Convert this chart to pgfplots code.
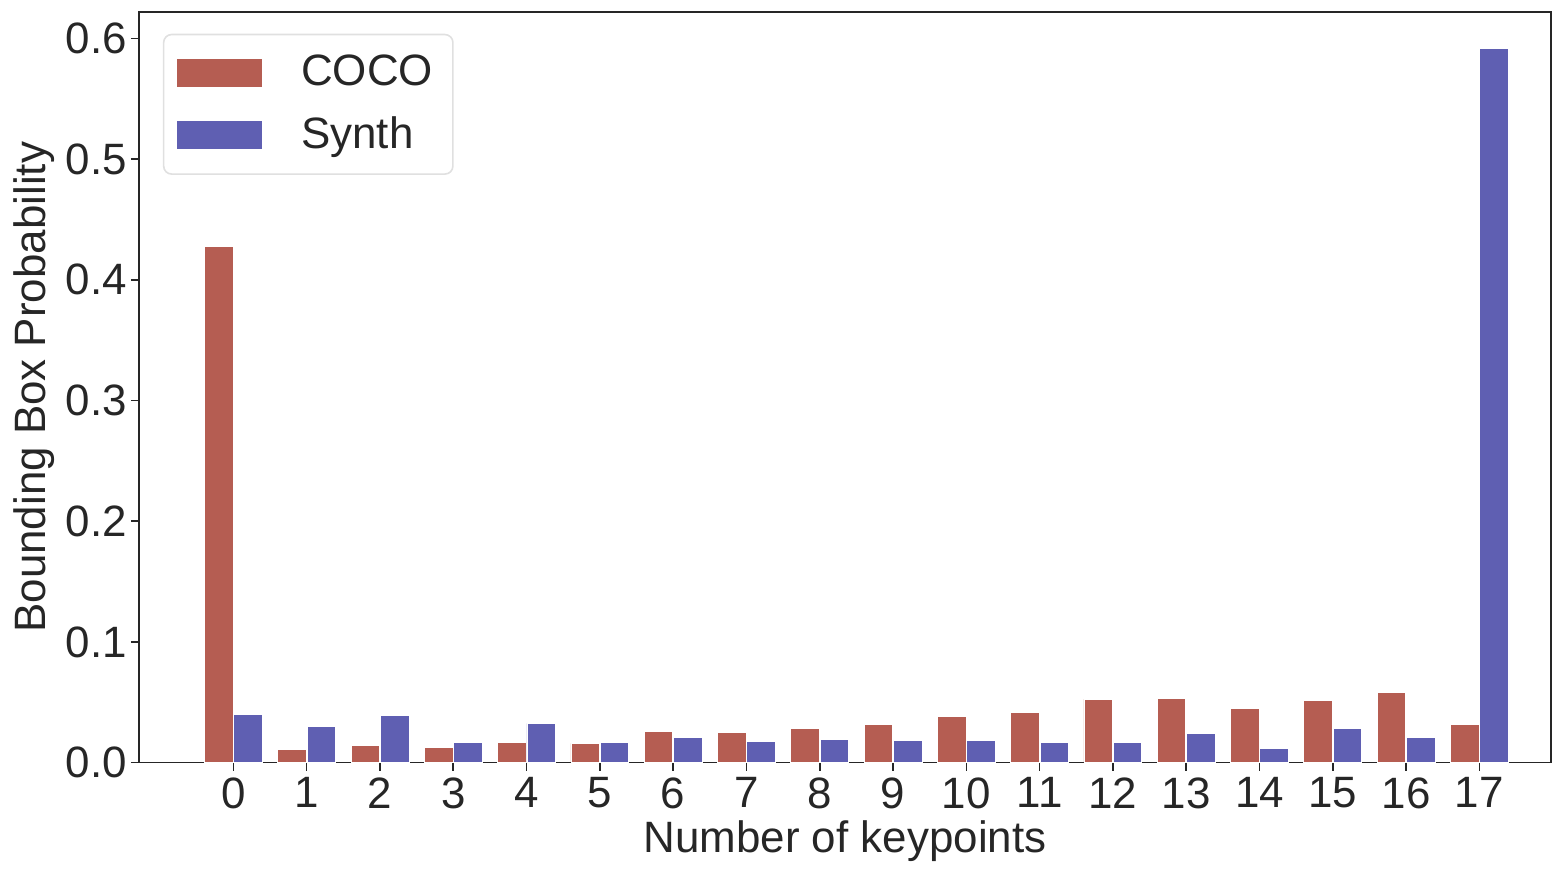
\documentclass[border=0pt]{standalone}
\usepackage{pgfplots}
\pgfplotsset{compat=1.18}
\usepackage{fontspec}
\setmainfont{Liberation Sans}
\definecolor{coco}{RGB}{181,93,82}
\definecolor{synth}{RGB}{95,95,178}
\definecolor{txt}{RGB}{38,38,38}
\begin{document}
\begin{tikzpicture}
\begin{axis}[
  name=ax,
  width=353.75pt, height=188pt,
  scale only axis,
  xmin=-1.29, xmax=17.98,
  ymin=0, ymax=0.622,
  xtick={0,...,17},
  ytick={0,0.1,...,0.6},
  yticklabel style={/pgf/number format/fixed,/pgf/number format/fixed zerofill,/pgf/number format/precision=1, xshift=2.5pt},
  xticklabel style={yshift=1.8pt},
  /pgf/number format/assume math mode=true,
  tick align=outside,
  xtick pos=bottom, ytick pos=left,
  major tick length=2pt,
  tick style={txt, line width=0.4pt},
  axis line style={txt, line width=0.4pt},
  ticklabel style={font=\fontsize{11}{13}\selectfont, text=txt},
  label style={font=\fontsize{11}{13}\selectfont, text=txt},
  xlabel={Number of keypoints},
  ylabel={Bounding Box Probability},
  xlabel style={yshift=3.8pt},
  ylabel style={yshift=-4pt},
  ybar, bar width=0.39,
  legend style={at={(rel axis cs:0.017,0.971)}, anchor=north west,
    draw=black!12, rounded corners=2pt, font=\fontsize{11}{13}\selectfont, text=txt,
    row sep=2.3pt, inner xsep=3pt, inner ysep=3pt},
  legend cell align=left,
  legend image code/.code={\fill[#1, sharp corners] (0pt,-3.6pt) rectangle (21.75pt,3.6pt);},
]
\addplot[fill=coco, draw=white, line width=0.2pt, bar shift=-0.2] coordinates {
(0,0.428) (1,0.011) (2,0.0143) (3,0.0127) (4,0.0168) (5,0.016)
(6,0.0259) (7,0.025) (8,0.0284) (9,0.0317) (10,0.038) (11,0.0414)
(12,0.0526) (13,0.0534) (14,0.0452) (15,0.0518) (16,0.0584) (17,0.0317)};
\addlegendentry{\hspace{7.5pt}COCO}
\addplot[fill=synth, draw=white, line width=0.2pt, bar shift=0.2] coordinates {
(0,0.040) (1,0.030) (2,0.039) (3,0.0168) (4,0.0325) (5,0.0168)
(6,0.021) (7,0.0176) (8,0.0193) (9,0.0185) (10,0.0185) (11,0.0168)
(12,0.0168) (13,0.0242) (14,0.0118) (15,0.0284) (16,0.021) (17,0.5917)};
\addlegendentry{\hspace{7.5pt}Synth}
\end{axis}
\path ([yshift=3pt]ax.north east);
\end{tikzpicture}
\end{document}
